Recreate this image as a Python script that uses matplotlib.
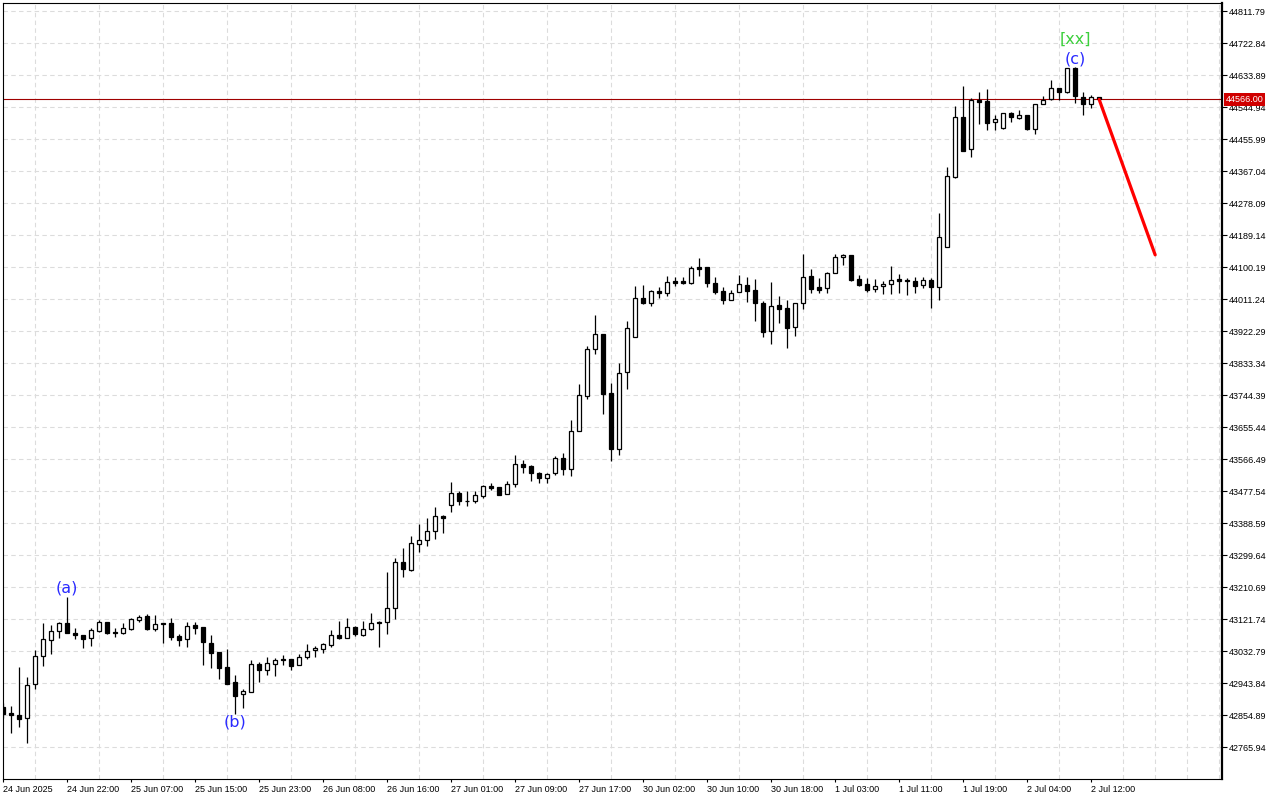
import matplotlib
matplotlib.use("Agg")
from matplotlib import pyplot as plt
import matplotlib.transforms as mtransforms

# hourly OHLC (bar 0 = 24 Jun 2025 14:00)
opens = [42877, 42860, 42855, 42846, 42940, 43018, 43063, 43088, 43111, 43083,
         43076, 43068, 43089, 43113, 43087, 43082, 43095, 43120, 43129, 43094,
         43112, 43110, 43074, 43065, 43104, 43100, 43054, 43030, 42988, 42946,
         42912, 42920, 42998, 42979, 42998, 43011, 43010, 42993, 43015, 43035,
         43039, 43050, 43076, 43070, 43100, 43077, 43093, 43113, 43113, 43152,
         43279, 43258, 43329, 43341, 43365, 43408, 43439, 43471, 43450, 43449,
         43464, 43491, 43488, 43468, 43496, 43552, 43547, 43527, 43513, 43527,
         43568, 43539, 43643, 43742, 43871, 43913, 43749, 43593, 43807, 43905,
         44013, 44001, 44033, 44027, 44060, 44060, 44057, 44100, 44099, 44055,
         44033, 44008, 44030, 44050, 44035, 44000, 43921, 43994, 43985, 43933,
         43999, 44074, 44044, 44041, 44083, 44127, 44134, 44067, 44053, 44038,
         44047, 44052, 44066, 44064, 44061, 44050, 44063, 44045, 44157, 44351,
         44516, 44427, 44564, 44562, 44503, 44487, 44529, 44515, 44523, 44485,
         44552, 44566, 44597, 44586, 44653, 44574, 44552, 44572]
highs = [42888, 42880, 42988, 42960, 43036, 43110, 43104, 43114, 43182, 43098,
         43076, 43098, 43119, 43113, 43096, 43110, 43124, 43133, 43137, 43133,
         43112, 43124, 43080, 43113, 43113, 43100, 43077, 43030, 43038, 42966,
         42927, 43008, 43002, 43015, 43014, 43021, 43011, 43024, 43052, 43047,
         43056, 43090, 43115, 43124, 43102, 43116, 43139, 43115, 43252, 43290,
         43318, 43353, 43386, 43402, 43432, 43411, 43503, 43477, 43477, 43477,
         43494, 43501, 43489, 43505, 43578, 43564, 43550, 43529, 43528, 43575,
         43584, 43675, 43775, 43882, 43967, 43913, 43777, 43832, 43950, 44047,
         44050, 44036, 44044, 44075, 44072, 44073, 44102, 44124, 44099, 44073,
         44045, 44036, 44078, 44072, 44068, 44006, 44058, 44020, 44008, 43999,
         44136, 44094, 44069, 44085, 44135, 44135, 44134, 44077, 44069, 44067,
         44060, 44102, 44081, 44070, 44072, 44072, 44069, 44249, 44379, 44548,
         44604, 44569, 44586, 44594, 44523, 44529, 44532, 44537, 44523, 44553,
         44576, 44620, 44597, 44653, 44656, 44587, 44578, 44574]
lows = [42847, 42806, 42822, 42778, 42927, 42992, 43025, 43070, 43082, 43066,
        43042, 43048, 43085, 43079, 43073, 43080, 43091, 43114, 43090, 43088,
        43054, 43062, 43048, 43045, 43079, 42994, 42986, 42954, 42941, 42857,
        42875, 42920, 42948, 42967, 42964, 42993, 42979, 42993, 43011, 43017,
        43028, 43044, 43066, 43070, 43075, 43075, 43092, 43044, 43080, 43121,
        43239, 43256, 43307, 43325, 43344, 43362, 43420, 43439, 43437, 43443,
        43459, 43480, 43467, 43468, 43489, 43528, 43506, 43501, 43501, 43521,
        43521, 43519, 43643, 43732, 43859, 43691, 43562, 43578, 43762, 43905,
        43996, 43993, 44013, 44020, 44048, 44054, 44052, 44076, 44045, 44024,
        43996, 44008, 44030, 44004, 43951, 43906, 43887, 43945, 43876, 43909,
        43984, 44029, 44027, 44029, 44083, 44107, 44062, 44048, 44030, 44030,
        44026, 44024, 44029, 44022, 44029, 44041, 43987, 44008, 44157, 44347,
        44423, 44407, 44498, 44481, 44481, 44483, 44504, 44512, 44481, 44470,
        44552, 44564, 44564, 44583, 44555, 44523, 44543, 44564]
closes = [42858, 42854, 42843, 42938, 43018, 43065, 43088, 43111, 43084, 43076,
          43067, 43090, 43113, 43084, 43082, 43096, 43121, 43128, 43094, 43107,
          43107, 43073, 43064, 43102, 43098, 43057, 43028, 42986, 42941, 42909,
          42922, 42998, 42979, 42999, 43008, 43007, 42992, 43015, 43032, 43041,
          43052, 43076, 43070, 43100, 43080, 43094, 43111, 43110, 43152, 43279,
          43262, 43332, 43341, 43365, 43407, 43402, 43471, 43449, 43450, 43466,
          43491, 43486, 43467, 43496, 43552, 43545, 43527, 43513, 43525, 43568,
          43539, 43645, 43744, 43871, 43913, 43748, 43593, 43805, 43930, 44013,
          44001, 44033, 44027, 44058, 44057, 44057, 44097, 44095, 44055, 44032,
          44009, 44027, 44052, 44034, 43999, 43920, 43991, 43984, 43931, 43999,
          44072, 44040, 44037, 44083, 44127, 44133, 44065, 44051, 44037, 44048,
          44053, 44063, 44062, 44060, 44048, 44063, 44045, 44183, 44353, 44516,
          44423, 44564, 44560, 44501, 44511, 44529, 44518, 44523, 44485, 44553,
          44564, 44597, 44586, 44653, 44576, 44552, 44573, 44566]

time_labels = ["24 Jun 2025", "24 Jun 22:00", "25 Jun 07:00", "25 Jun 15:00",
               "25 Jun 23:00", "26 Jun 08:00", "26 Jun 16:00", "27 Jun 01:00",
               "27 Jun 09:00", "27 Jun 17:00", "30 Jun 02:00", "30 Jun 10:00",
               "30 Jun 18:00", "1 Jul 03:00", "1 Jul 11:00", "1 Jul 19:00",
               "2 Jul 04:00", "2 Jul 12:00"]
price_ticks = [42765.94, 42854.89, 42943.84, 43032.79, 43121.74, 43210.69,
               43299.64, 43388.59, 43477.54, 43566.49, 43655.44, 43744.39,
               43833.34, 43922.29, 44011.24, 44100.19, 44189.14, 44278.09,
               44367.04, 44455.99, 44544.94, 44633.89, 44722.84, 44811.79]
last_price = 44566.00

# forecast arrow and wave marks
proj_bars = [137, 144]
proj_prices = [44566, 44134]
wave_marks = [("(a)", 8, 43208, "#2a2aff"),
              ("(b)", 29, 42835, "#2a2aff"),
              ("(c)", 134, 44678, "#2a2aff"),
              ("[xx]", 134, 44733, "#3ccf3c")]

plt.rcParams['font.family'] = ['Liberation Sans', 'DejaVu Sans']

fig = plt.figure(figsize=(12.8, 8), dpi=100)
ax = fig.add_axes([3 / 1280, 21 / 800, 1219 / 1280, 776 / 800])

n = len(opens)
xs = list(range(n))

# wicks first, bodies on top
ax.vlines(xs, lows, highs, color='black', linewidth=0.9, zorder=3)
for i in xs:
    o, c = opens[i], closes[i]
    bottom = min(o, c)
    height = max(abs(c - o), 0.6)
    face = 'white' if c >= o else 'black'
    ax.bar(i, height, bottom=bottom, width=0.52, color=face,
           edgecolor='black', linewidth=0.9, zorder=4)

# current price line
ax.axhline(last_price, color='#a00000', linewidth=0.8, zorder=2)

# forecast line
ax.plot(proj_bars, proj_prices, color='#ff0000', linewidth=2.3,
        solid_capstyle='round', zorder=5)

for txt, bx, py, col in wave_marks:
    ax.text(bx, py, txt, color=col, fontsize=11.5, ha='center', va='center',
            family='DejaVu Sans', zorder=6)

xl = -0.02
ax.set_xlim(xl, xl + 1219 / 8)
ax.set_ylim(42677.0, 44834.1)

# grid
ax.set_xticks(range(4, 153, 4), minor=True)
ax.set_yticks(price_ticks)
ax.set_yticklabels([f"{p:.2f}" for p in price_ticks])
ax.set_xticks(range(0, 8 * len(time_labels), 8))
ax.set_xticklabels(time_labels)
for lbl in ax.get_xticklabels():
    lbl.set_horizontalalignment('left')

ax.grid(True, which='major', axis='y', color='#dcdcdc', linestyle=(0, (4, 3)), linewidth=0.8)
ax.grid(True, which='minor', axis='x', color='#dcdcdc', linestyle=(0, (4, 3)), linewidth=0.8)
ax.set_axisbelow(True)

ax.yaxis.tick_right()
ax.tick_params(axis='y', direction='out', length=3.5, width=0.8, pad=1.5,
               labelsize=6.5, colors='black')
ax.tick_params(axis='x', which='major', direction='out', length=2.5, width=0.8,
               pad=1.5, labelsize=6.5)
ax.tick_params(axis='x', which='minor', length=0)

for side in ['top', 'left', 'bottom']:
    ax.spines[side].set_linewidth(0.8)
ax.spines['right'].set_linewidth(1.6)

# price tag on the right axis
trans = mtransforms.blended_transform_factory(ax.transAxes, ax.transData)
ax.text(1.0028, last_price, f"{last_price:.2f}", transform=trans, fontsize=6.5,
        color='white', ha='left', va='center', clip_on=False, zorder=10,
        bbox=dict(boxstyle='square,pad=0.18', facecolor='#d00000', edgecolor='none'))

fig.savefig('out.png', dpi=100, facecolor='white')
